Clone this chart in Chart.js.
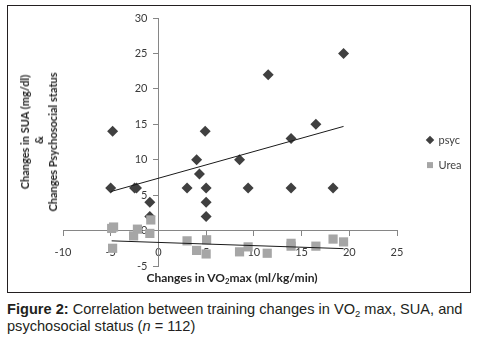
<!DOCTYPE html>
<html>
<head>
<meta charset="utf-8">
<script src="https://cdn.jsdelivr.net/npm/chart.js@4.4.1/dist/chart.umd.min.js"></script>
<style>
  body { margin: 0; background: #fff; width: 488px; height: 340px; position: relative; overflow: hidden; }
  #frame { position: absolute; left: 7px; top: 5px; width: 464px; height: 288px; border: 1px solid #231f20; box-sizing: border-box; }
  #chartBox { position: absolute; left: 8px; top: 6px; width: 462px; height: 286px; }
  .axis-title { position: absolute; font-family: Lato, sans-serif; font-weight: bold; font-size: 11px; color: #262626; white-space: nowrap; }
  #xTitle { left: 232px; top: 277px; font-size: 12px; transform: translate(-50%, -50%); }
  #yTitle { left: 39px; top: 140px; transform: translate(-50%, -50%) rotate(-90deg); text-align: center; line-height: 14px; }
  #yTitle div { position: relative; }
  #caption { position: absolute; left: 7px; top: 301px; font-family: "Liberation Sans", Arial, sans-serif; font-size: 14.6px; line-height: 17px; color: #231f20; white-space: nowrap; }
  sub { font-size: 0.65em; line-height: 0; vertical-align: -0.35em; }
</style>
</head>
<body>
<div id="frame"></div>
<div id="chartBox"><canvas id="chart"></canvas></div>
<div class="axis-title" id="xTitle">Changes in VO<sub>2</sub>max (ml/kg/min)</div>
<div class="axis-title" id="yTitle">
  <div style="left: 8px">Changes in SUA (mg/dl)</div>
  <div>&amp;</div>
  <div style="left: -2px">Changes Psychosocial status</div>
</div>
<div id="caption"><b>Figure 2:</b> Correlation between training changes in VO<sub>2</sub> max, SUA, and<br>psychosocial status (<i>n</i> = 112)</div>

<script>
// values
const xRange = [-10, 25];
const yRange = [-5, 30];
const tickStep = 5;

const psycX = [-4.8, -5.0, -2.5, -2.3, -0.9, -0.9, 3.0, 4.0, 4.3, 4.9, 5.0, 5.0, 5.0, 8.5, 9.4, 11.5, 13.9, 13.9, 16.5, 18.3, 19.4];
const psycY = [14, 6, 6, 6, 4, 2, 6, 10, 8, 14, 6, 4, 2, 10, 6, 22, 13, 6, 15, 6, 25];

const ureaX = [-4.9, -4.7, -4.8, -2.6, -2.2, -0.9, -0.8, 3.0, 4.0, 5.0, 5.05, 8.5, 9.4, 11.4, 13.9, 13.9, 16.5, 18.3, 19.4];
const ureaY = [0.3, 0.5, -2.5, -0.75, 0.2, -0.4, 1.5, -1.45, -2.8, -3.3, -1.3, -3.0, -2.3, -3.2, -1.8, -2.2, -2.2, -1.2, -1.6];

// linear trend lines (ends as drawn in the figure)
const psycTrendX = [-5.0, 19.4];
const psycTrendY = [5.5, 14.7];
const ureaTrendX = [-4.9, 19.4];
const ureaTrendY = [-1.45, -2.55];

const toPoints = (xs, ys) => xs.map((x, i) => ({ x: x, y: ys[i] }));

const axisColor = '#868686';
const tickFont = { family: 'Lato', size: 11 };

new Chart(document.getElementById('chart'), {
    type: 'scatter',
    data: {
        datasets: [
            {
                label: 'psyc',
                data: toPoints(psycX, psycY),
                pointStyle: 'rectRot',
                pointRadius: 5.5,
                backgroundColor: '#404040',
                borderWidth: 0,
                order: 2
            },
            {
                label: 'Urea',
                data: toPoints(ureaX, ureaY),
                pointStyle: 'rect',
                pointRadius: 6.5,
                backgroundColor: '#a6a6a6',
                borderWidth: 0,
                order: 1
            },
            {
                label: 'psyc trend',
                data: toPoints(psycTrendX, psycTrendY),
                showLine: true,
                pointRadius: 0,
                borderColor: '#1a1a1a',
                borderWidth: 1,
                order: 0
            },
            {
                label: 'Urea trend',
                data: toPoints(ureaTrendX, ureaTrendY),
                showLine: true,
                pointRadius: 0,
                borderColor: '#1a1a1a',
                borderWidth: 1,
                order: 0
            }
        ]
    },
    options: {
        responsive: true,
        maintainAspectRatio: false,
        animation: false,
        layout: {
            padding: { left: 55, top: 12, bottom: 26, right: 0 }
        },
        plugins: {
            tooltip: { enabled: false },
            legend: {
                position: 'right',
                maxWidth: 57,
                title: { display: true, text: '', padding: { top: 8, bottom: 0 }, font: { size: 11 } },
                labels: {
                    usePointStyle: true,
                    boxWidth: 6,
                    boxHeight: 6,
                    padding: 14,
                    color: '#404040',
                    font: { family: 'Lato', size: 11 },
                    filter: item => !item.text.includes('trend'),
                    sort: (a, b) => a.datasetIndex - b.datasetIndex
                }
            }
        },
        scales: {
            x: {
                type: 'linear',
                position: { y: 0 },
                min: xRange[0],
                max: xRange[1],
                ticks: { stepSize: tickStep, padding: 10, color: '#3a3a3a', font: tickFont },
                grid: { drawOnChartArea: false, tickLength: 5, color: axisColor },
                border: { color: axisColor }
            },
            y: {
                type: 'linear',
                position: { x: 0 },
                min: yRange[0],
                max: yRange[1],
                ticks: {
                    stepSize: tickStep,
                    color: '#3a3a3a',
                    font: tickFont,
                    // labels sit on the axis when it is placed at x = 0, so push them left
                    callback: v => v + '\u2002\u2002'
                },
                grid: { drawOnChartArea: false, tickLength: 5, color: axisColor },
                border: { color: axisColor }
            },
            // spacer between plot and legend
            gap: {
                type: 'linear',
                position: 'right',
                grid: { display: false },
                border: { display: false },
                ticks: { display: false },
                afterFit: scale => { scale.width = 16; }
            }
        }
    }
});
</script>
</body>
</html>
